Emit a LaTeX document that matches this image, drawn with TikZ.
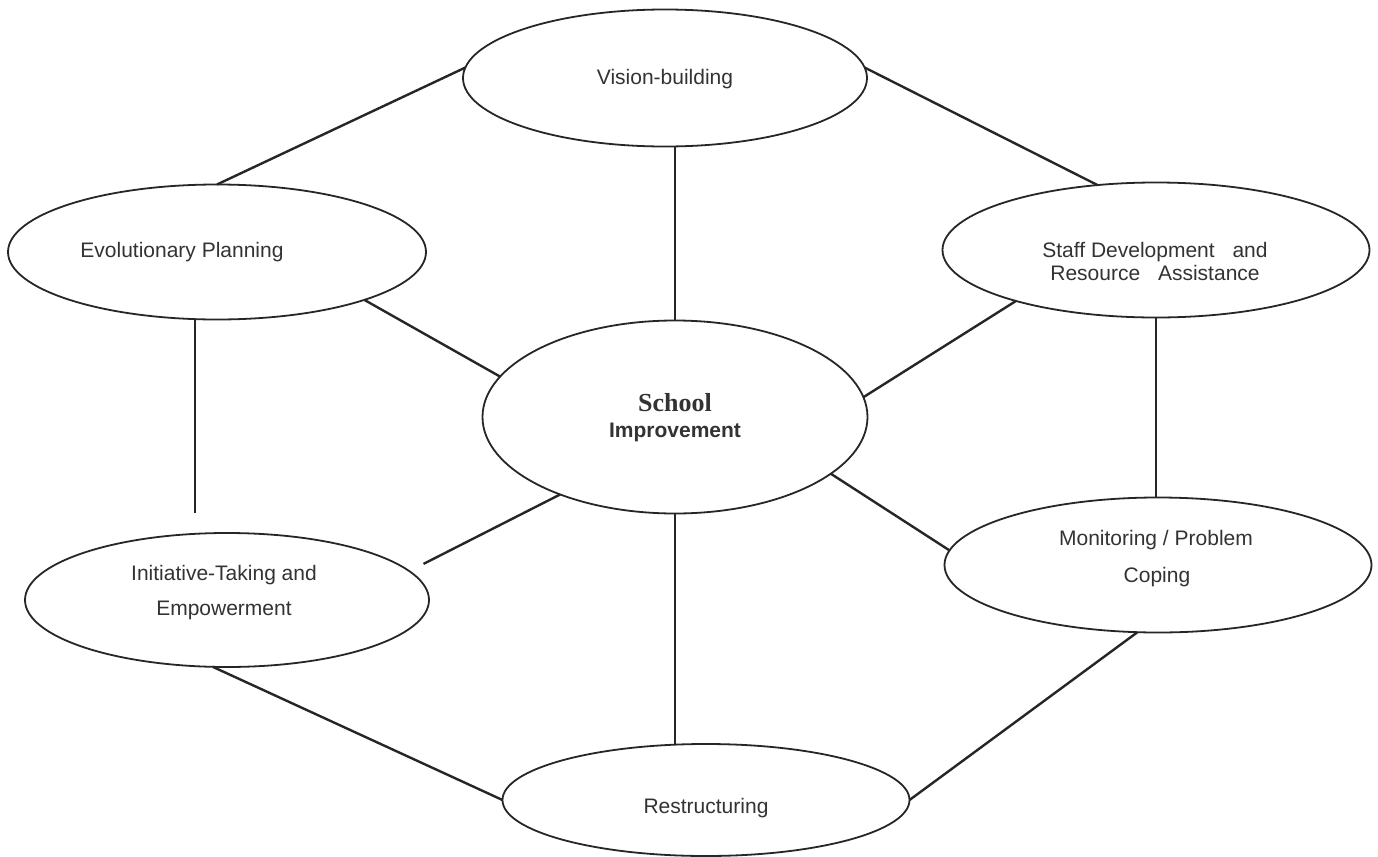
\documentclass[tikz,border=0pt]{standalone}
\usepackage{fontspec}
\setmainfont{Liberation Sans}
\newfontfamily\serifbf{Liberation Serif}
\usetikzlibrary{shapes.geometric}
\begin{document}
\begin{tikzpicture}[x=0.5pt,y=-0.5pt,
  oval/.style={ellipse, draw=black!85, line width=0.9pt, inner sep=0pt, outer sep=0pt},
  link/.style={draw=black!85, line width=1.2pt},
  vlink/.style={draw=black!85, line width=0.8pt},
  lbl/.style={font=\fontsize{10.5}{12}\selectfont, text=black!80, anchor=base, inner sep=0pt}]
\useasboundingbox (0,0) rectangle (1378,857);
\fill[white] (0,0) rectangle (1378,857);
% ellipses
\node[oval, minimum width=202pt,   minimum height=68.5pt] (vis)    at (665,78)  {};
\node[oval, minimum width=209pt,   minimum height=67.5pt] (evo)    at (217,252) {};
\node[oval, minimum width=213.5pt, minimum height=67.5pt] (staff)  at (1156,250) {};
\node[oval, minimum width=192.5pt, minimum height=96.5pt] (school) at (675,417) {};
\node[oval, minimum width=202pt,   minimum height=67pt]   (init)   at (227,600) {};
\node[oval, minimum width=213.5pt, minimum height=67.5pt] (mon)    at (1158,565) {};
\node[oval, minimum width=203.5pt, minimum height=56pt]   (restr)  at (706,800) {};
% labels
\node[lbl] (tvis)    at (665,84)   {Vision-building};
\node[lbl] (tevo)    at (182,257)  {Evolutionary Planning};
\node[lbl] (tstaff1) at (1155,257) {Staff Development\hspace{0.85em}and};
\node[lbl] (tstaff2) at (1155,280) {Resource\hspace{0.85em}Assistance};
\node[lbl, font=\serifbf\bfseries\fontsize{13}{14}\selectfont] (tschool1) at (675,411) {School};
\node[lbl, font=\bfseries\fontsize{10.5}{12}\selectfont] (tschool2) at (675,437) {Improvement};
\node[lbl] (tinit1)  at (224,580)  {Initiative-Taking and};
\node[lbl] (tinit2)  at (224,615)  {Empowerment};
\node[lbl] (tmon1)   at (1156,545) {Monitoring / Problem};
\node[lbl] (tmon2)   at (1157,582) {Coping};
\node[lbl] (trestr)  at (706,813)  {Restructuring};
% connectors
\draw[link] (evo.north) -- (vis.177);
\draw[link] (vis.3) -- (staff.132);
\draw[vlink] (school.north) -- (school.north |- vis.south);
\draw[link] (evo.-18) -- (school.167);
\draw[link] (school.6) -- (staff.200);
\draw[vlink] (staff.south) -- (staff.south |- mon.north);
\draw[link] (school.-20) -- (mon.176);
\draw[link, shorten >=8pt] (school.214) -- (init.9);
\draw[vlink, shorten >=10pt] (evo.-108) -- (evo.-108 |- init.north);
\draw[link] (init.-102) -- (restr.west);
\draw[vlink] (school.south) -- (school.south |- restr.north);
\draw[link] (mon.-107) -- (restr.east);
\end{tikzpicture}
\end{document}
